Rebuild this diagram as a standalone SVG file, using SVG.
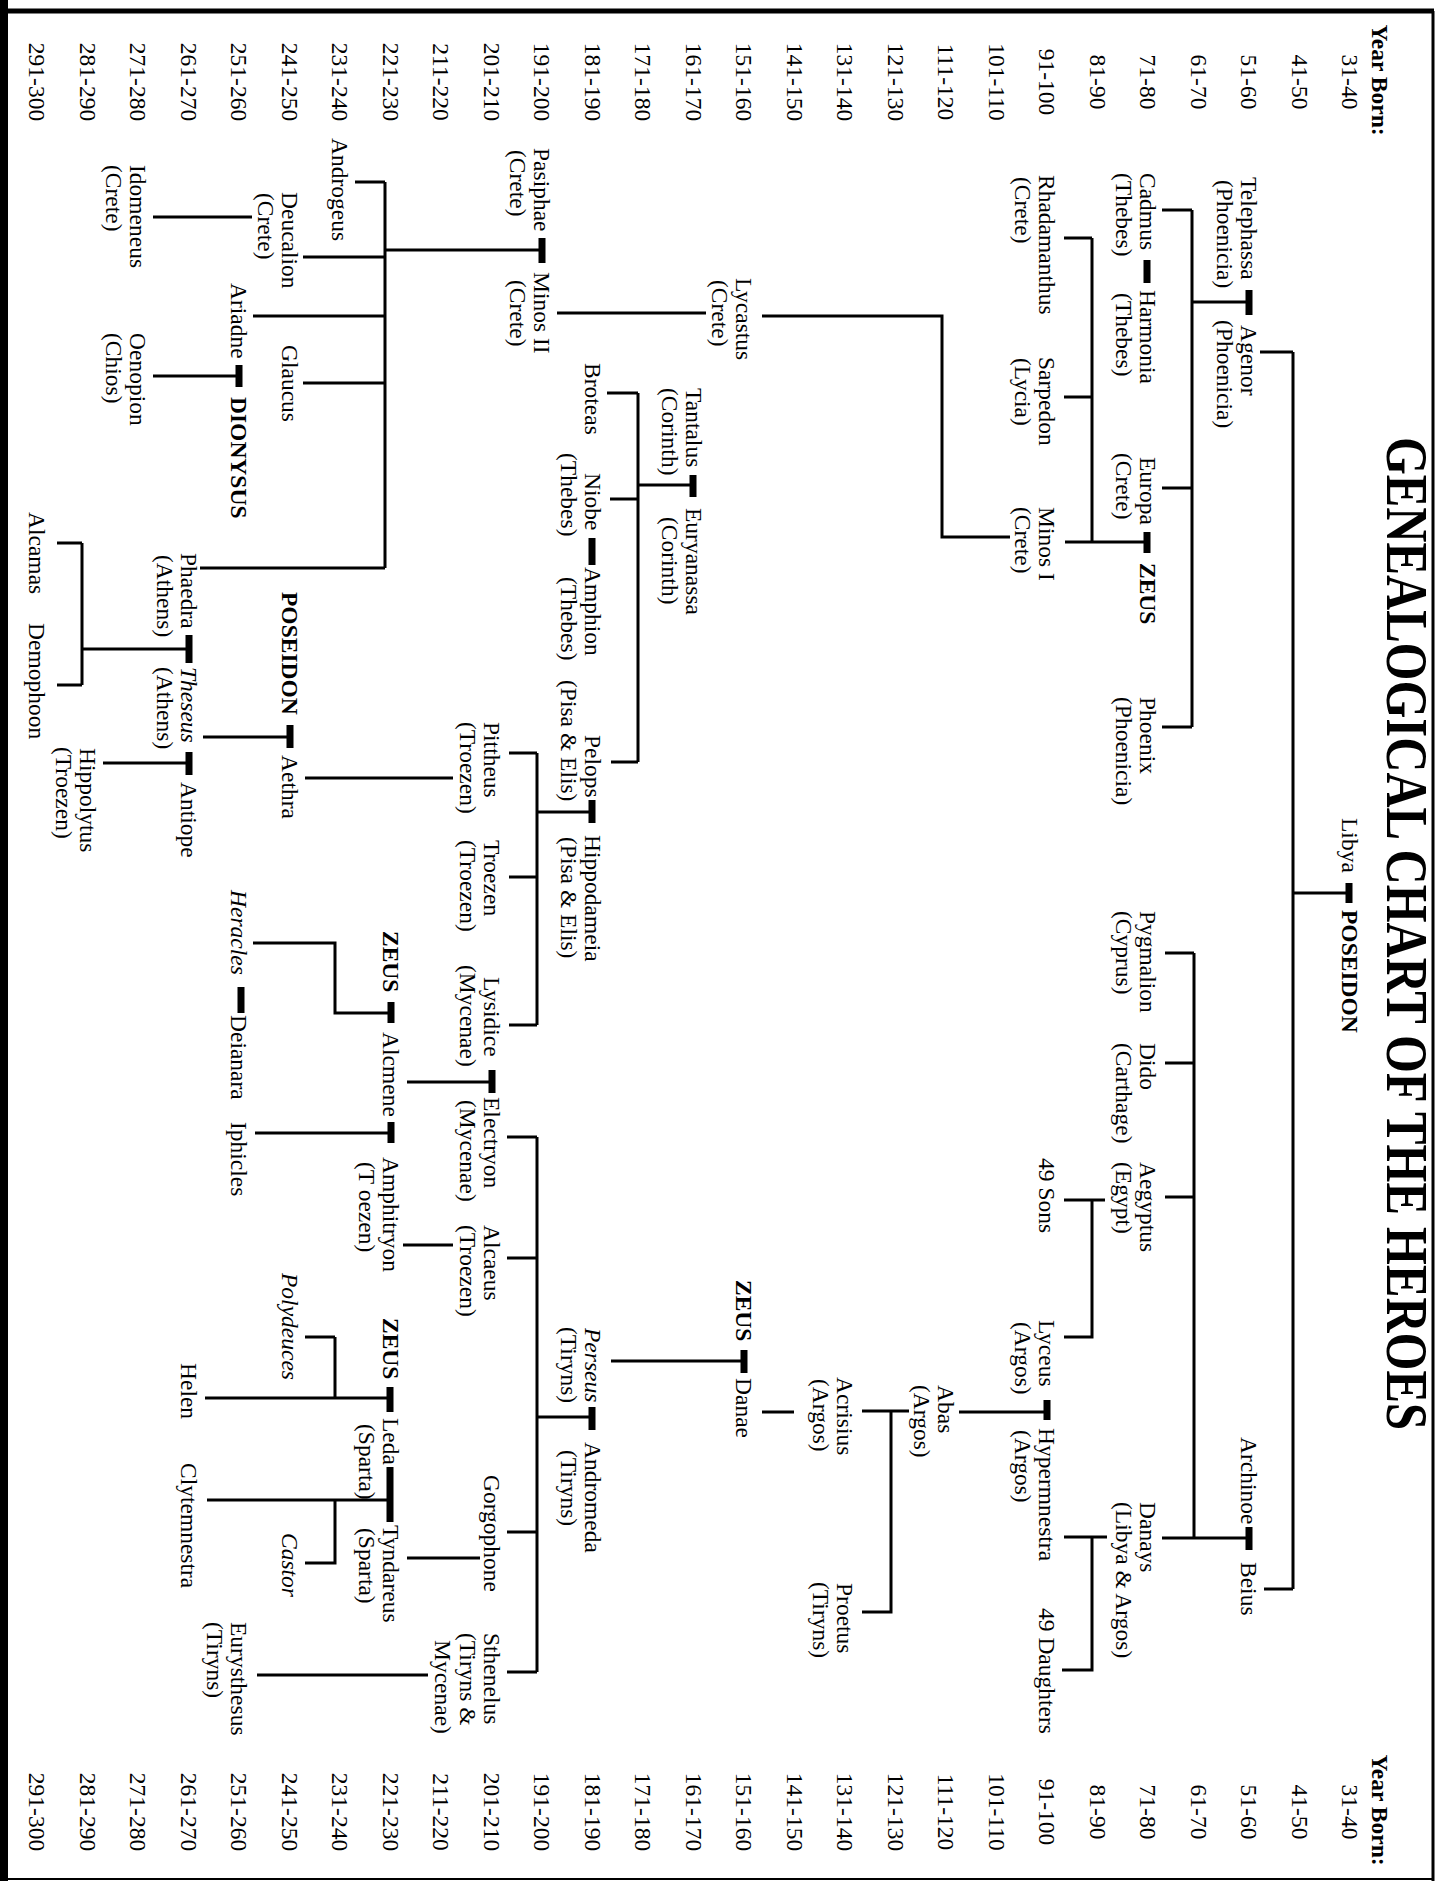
<svg xmlns="http://www.w3.org/2000/svg" width="1437" height="1881" viewBox="0 0 1437 1881">
<style>
text{font-family:"Liberation Serif","Times New Roman",serif;font-size:23.5px;fill:#000}
.b{font-weight:bold}
.i{font-style:italic}
.t{font-weight:bold;font-size:60px}
.yl{text-anchor:middle}
.c path{stroke:#000;stroke-width:3;fill:none}
.c .bar{stroke-width:7}
</style>
<rect width="1437" height="1881" fill="#fff"/>
<g id="frame" stroke="#000" fill="none">
<line x1="4" y1="0" x2="4" y2="1881" stroke-width="8"/>
<line x1="8" y1="11" x2="1434" y2="11" stroke-width="5"/>
<line x1="1433" y1="11" x2="1433" y2="1881" stroke-width="3"/>
<line x1="8" y1="1879" x2="1433" y2="1879" stroke-width="2"/>
</g>
<g transform="translate(1437,0) rotate(90)">
<text id="title" class="t" x="437" y="50" textLength="993" lengthAdjust="spacingAndGlyphs">GENEALOGICAL CHART OF THE HEROES</text>
<g id="years-left" class="yl">
<text class="b" x="80" y="65">Year Born:</text>
<text x="82" y="95">31-40</text><text x="82" y="145.5">41-50</text><text x="82" y="196">51-60</text><text x="82" y="246.5">61-70</text><text x="82" y="297">71-80</text><text x="82" y="347.5">81-90</text><text x="82" y="398">91-100</text><text x="82" y="448.5">101-110</text><text x="82" y="499">111-120</text><text x="82" y="549.5">121-130</text><text x="82" y="600">131-140</text><text x="82" y="650.5">141-150</text><text x="82" y="701">151-160</text><text x="82" y="751.5">161-170</text><text x="82" y="802">171-180</text><text x="82" y="852.5">181-190</text><text x="82" y="903">191-200</text><text x="82" y="953.5">201-210</text><text x="82" y="1004">211-220</text><text x="82" y="1054.5">221-230</text><text x="82" y="1105">231-240</text><text x="82" y="1155.5">241-250</text><text x="82" y="1206">251-260</text><text x="82" y="1256.5">261-270</text><text x="82" y="1307">271-280</text><text x="82" y="1357.5">281-290</text><text x="82" y="1408">291-300</text>
</g>
<g id="years-right" class="yl">
<text class="b" x="1810" y="65">Year Born:</text>
<text x="1812" y="95">31-40</text><text x="1812" y="145.5">41-50</text><text x="1812" y="196">51-60</text><text x="1812" y="246.5">61-70</text><text x="1812" y="297">71-80</text><text x="1812" y="347.5">81-90</text><text x="1812" y="398">91-100</text><text x="1812" y="448.5">101-110</text><text x="1812" y="499">111-120</text><text x="1812" y="549.5">121-130</text><text x="1812" y="600">131-140</text><text x="1812" y="650.5">141-150</text><text x="1812" y="701">151-160</text><text x="1812" y="751.5">161-170</text><text x="1812" y="802">171-180</text><text x="1812" y="852.5">181-190</text><text x="1812" y="903">191-200</text><text x="1812" y="953.5">201-210</text><text x="1812" y="1004">211-220</text><text x="1812" y="1054.5">221-230</text><text x="1812" y="1105">231-240</text><text x="1812" y="1155.5">241-250</text><text x="1812" y="1206">251-260</text><text x="1812" y="1256.5">261-270</text><text x="1812" y="1307">271-280</text><text x="1812" y="1357.5">281-290</text><text x="1812" y="1408">291-300</text>
</g>
<g id="connectors" class="c">
<path d="M893 88V144M352 144H1589M352 144V177M1589 144V173M302 188V245M210 245H727M210 245V275M488 245V275M727 245V275M542 290V372M238 345H542M238 345V373M397 345V373M537 427V495H316V675M313 731V880M1538 188V275M953 243H1538M953 243V272M1063 243V272M1197 243V272M1200 332V373M1200 345H1337V373M1537 330V373M1537 345H1670V375M1412 390V478M1411 528V575M1411 546H1612V575M1412 643V675M1361 693V826M485 744V799M393 799H762M393 799V830M499 799V827M762 799V826M812 845V900M753 900H1025M753 900V928M877 900V928M1025 900V928M250 895V1052M182 1052H568M182 1052V1082M257 1052V1134M316 1052V1184M383 1052V1134M568 1052V1237M217 1185V1284M376 1198V1284M778 984V1132M737 1147V1234M649 1248V1355M543 1355H685M543 1355V1380M685 1355V1380M763 1248V1334M1082 945V1030M1013 1046V1102H943V1184M1133 1046V1182M1245 984V1034M1417 845V900M1137 900H1672M1137 900V930M1258 900V930M1532 900V930M1672 900V930M1558 957V1030M1675 1009V1180M1398 1047V1232M1337 1102H1398M1337 1102V1132M1500 1047V1230M1500 1102H1563V1132"/>
<path class="bar" d="M883 88H903M290 188H315M260 290H283M532 290H553M1527 188H1550M1400 390H1420M1350 693H1373M475 744H497M538 845H565M800 845H823M238 895H263M365 1198H387M725 1147H748M635 1248H663M752 1248H775M1070 945H1093M1002 1046H1023M987 1196H1013M1122 1046H1143M1407 845H1430M1387 1047H1412M1467 1047H1522"/>
</g>
<g id="n-libya"><text x="818" y="95">Libya</text></g>
<g id="n-poseidon1"><text class="b" x="910" y="95">POSEIDON</text></g>
<g id="n-telephassa"><text x="177" y="196">Telephassa</text><text x="180" y="220">(Phoenicia)</text></g>
<g id="n-agenor"><text x="325" y="196">Agenor</text><text x="320" y="220">(Phoenicia)</text></g>
<g id="n-archinoe"><text x="1437" y="196">Archinoe</text></g>
<g id="n-beius"><text x="1562" y="196">Beius</text></g>
<g id="n-cadmus"><text x="173" y="297">Cadmus</text><text x="173" y="321">(Thebes)</text></g>
<g id="n-harmonia"><text x="290" y="297">Harmonia</text><text x="293" y="321">(Thebes)</text></g>
<g id="n-europa"><text x="457" y="297">Europa</text><text x="453" y="321">(Crete)</text></g>
<g id="n-zeus1"><text class="b" x="563" y="297">ZEUS</text></g>
<g id="n-phoenix"><text x="697" y="297">Phoenix</text><text x="697" y="321">(Phoenicia)</text></g>
<g id="n-pygmalion"><text x="911" y="297">Pygmalion</text><text x="911" y="321">(Cyprus)</text></g>
<g id="n-dido"><text x="1043" y="297">Dido</text><text x="1043" y="321">(Carthage)</text></g>
<g id="n-aegyptus"><text x="1162" y="297">Aegyptus</text><text x="1162" y="321">(Egypt)</text></g>
<g id="n-danays"><text x="1502" y="297">Danays</text><text x="1502" y="321">(Libya &amp; Argos)</text></g>
<g id="n-rhadamanthus"><text x="175" y="398">Rhadamanthus</text><text x="177" y="422">(Crete)</text></g>
<g id="n-sarpedon"><text x="357" y="398">Sarpedon</text><text x="358" y="422">(Lycia)</text></g>
<g id="n-minos1"><text x="507" y="398">Minos I</text><text x="507" y="422">(Crete)</text></g>
<g id="n-49sons"><text x="1158" y="398">49 Sons</text></g>
<g id="n-lyceus"><text x="1320" y="398">Lyceus</text><text x="1322" y="422">(Argos)</text></g>
<g id="n-hypermnestra"><text x="1428" y="398">Hypermnestra</text><text x="1430" y="422">(Argos)</text></g>
<g id="n-49daughters"><text x="1608" y="398">49 Daughters</text></g>
<g id="n-abas"><text x="1385" y="499">Abas</text><text x="1385" y="523">(Argos)</text></g>
<g id="n-acrisius"><text x="1377" y="600">Acrisius</text><text x="1379" y="624">(Argos)</text></g>
<g id="n-proetus"><text x="1583" y="600">Proetus</text><text x="1582" y="624">(Tiryns)</text></g>
<g id="n-lycastus"><text x="278" y="701">Lycastus</text><text x="280" y="725">(Crete)</text></g>
<g id="n-zeus2"><text class="b" x="1280" y="701">ZEUS</text></g>
<g id="n-danae"><text x="1378" y="701">Danae</text></g>
<g id="n-tantalus"><text x="388" y="751.5">Tantalus</text><text x="388" y="775.5">(Corinth)</text></g>
<g id="n-euryanassa"><text x="508" y="751.5">Euryanassa</text><text x="517" y="775.5">(Corinth)</text></g>
<g id="n-broteas"><text x="363" y="852.5">Broteas</text></g>
<g id="n-niobe"><text x="473" y="852.5">Niobe</text><text x="453" y="876.5">(Thebes)</text></g>
<g id="n-amphion"><text x="567" y="852.5">Amphion</text><text x="577" y="876.5">(Thebes)</text></g>
<g id="n-pelops"><text x="735" y="852.5">Pelops</text><text x="680" y="876.5">(Pisa &amp; Elis)</text></g>
<g id="n-hippodameia"><text x="835" y="852.5">Hippodameia</text><text x="837" y="876.5">(Pisa &amp; Elis)</text></g>
<g id="n-perseus"><text class="i" x="1328" y="852.5">Perseus</text><text x="1327" y="876.5">(Tiryns)</text></g>
<g id="n-andromeda"><text x="1442" y="852.5">Andromeda</text><text x="1450" y="876.5">(Tiryns)</text></g>
<g id="n-pasiphae"><text x="148" y="903">Pasiphae</text><text x="150" y="927">(Crete)</text></g>
<g id="n-minos2"><text x="272" y="903">Minos II</text><text x="280" y="927">(Crete)</text></g>
<g id="n-pittheus"><text x="722" y="953.5">Pittheus</text><text x="722" y="977.5">(Troezen)</text></g>
<g id="n-troezen"><text x="840" y="953.5">Troezen</text><text x="840" y="977.5">(Troezen)</text></g>
<g id="n-lysidice"><text x="977" y="953.5">Lysidice</text><text x="965" y="977.5">(Mycenae)</text></g>
<g id="n-electryon"><text x="1097" y="953.5">Electryon</text><text x="1100" y="977.5">(Mycenae)</text></g>
<g id="n-alcaeus"><text x="1225" y="953.5">Alcaeus</text><text x="1225" y="977.5">(Troezen)</text></g>
<g id="n-gorgophone"><text x="1475" y="953.5">Gorgophone</text></g>
<g id="n-sthenelus"><text x="1633" y="953.5">Sthenelus</text><text x="1633" y="977.5">(Tiryns &amp;</text><text x="1640" y="1002">Mycenae)</text></g>
<g id="n-zeus3"><text class="b" x="931" y="1054.5">ZEUS</text></g>
<g id="n-alcmene"><text x="1032" y="1054.5">Alcmene</text></g>
<g id="n-amphitryon"><text x="1157" y="1054.5">Amphitryon</text><text x="1162" y="1078.5">(T oezen)</text></g>
<g id="n-zeus4"><text class="b" x="1318" y="1054.5">ZEUS</text></g>
<g id="n-leda"><text x="1418" y="1054.5">Leda</text><text x="1424" y="1078.5">(Sparta)</text></g>
<g id="n-tyndareus"><text x="1525" y="1054.5">Tyndareus</text><text x="1528" y="1078.5">(Sparta)</text></g>
<g id="n-androgeus"><text x="138" y="1105">Androgeus</text></g>
<g id="n-deucalion"><text x="192" y="1155.5">Deucalion</text><text x="193" y="1179.5">(Crete)</text></g>
<g id="n-glaucus"><text x="345" y="1155.5">Glaucus</text></g>
<g id="n-poseidon2"><text class="b" x="592" y="1155.5">POSEIDON</text></g>
<g id="n-aethra"><text x="755" y="1155.5">Aethra</text></g>
<g id="n-polydeuces"><text class="i" x="1273" y="1155.5">Polydeuces</text></g>
<g id="n-castor"><text class="i" x="1533" y="1155.5">Castor</text></g>
<g id="n-ariadne"><text x="283" y="1206">Ariadne</text></g>
<g id="n-dionysus"><text class="b" x="397" y="1206">DIONYSUS</text></g>
<g id="n-heracles"><text class="i" x="890" y="1206">Heracles</text></g>
<g id="n-deianara"><text x="1015" y="1206">Deianara</text></g>
<g id="n-iphicles"><text x="1122" y="1206">Iphicles</text></g>
<g id="n-eurysthesus"><text x="1622" y="1206">Eurysthesus</text><text x="1622" y="1230">(Tiryns)</text></g>
<g id="n-phaedra"><text x="553" y="1256.5">Phaedra</text><text x="555" y="1280.5">(Athens)</text></g>
<g id="n-theseus"><text class="i" x="667" y="1256.5">Theseus</text><text x="667" y="1280.5">(Athens)</text></g>
<g id="n-antiope"><text x="782" y="1256.5">Antiope</text></g>
<g id="n-helen"><text x="1363" y="1256.5">Helen</text></g>
<g id="n-clytemnestra"><text x="1463" y="1256.5">Clytemnestra</text></g>
<g id="n-idomeneus"><text x="165" y="1307">Idomeneus</text><text x="165" y="1331">(Crete)</text></g>
<g id="n-oenopion"><text x="333" y="1307">Oenopion</text><text x="333" y="1331">(Chios)</text></g>
<g id="n-hippolytus"><text x="748" y="1357.5">Hippolytus</text><text x="747" y="1381.5">(Troezen)</text></g>
<g id="n-alcamas"><text x="512" y="1408">Alcamas</text></g>
<g id="n-demophoon"><text x="623" y="1408">Demophoon</text></g>
</g>
</svg>
